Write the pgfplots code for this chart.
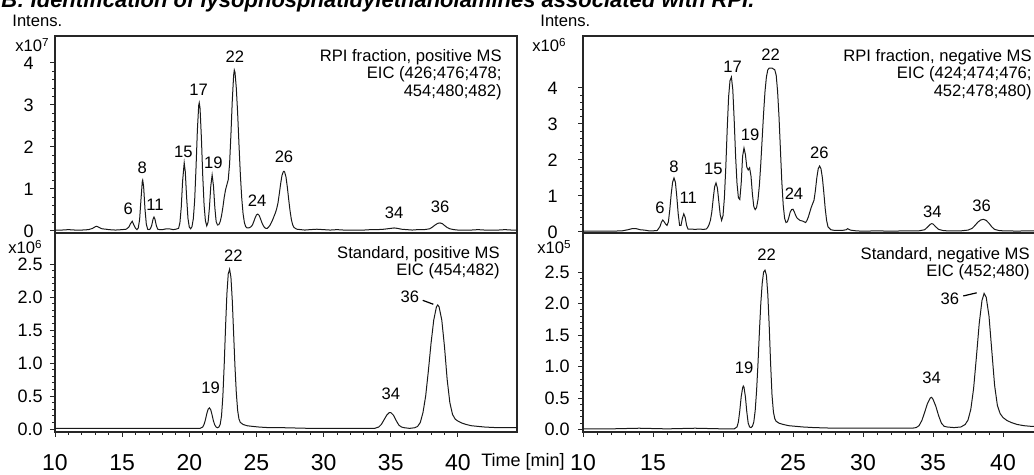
\documentclass[border=0pt]{standalone}
\usepackage{fontspec}
\setmainfont{Liberation Sans}
\usepackage{pgfplots}
\pgfplotsset{compat=1.18}

\newcommand\lab{\fontsize{8.3}{7.6}\selectfont}

\pgfplotsset{
  chrom/.style={
    scale only axis,
    axis line style={line width=0.6pt, black!85},
    tick style={black!85, line width=0.45pt},
    tick align=outside,
    ytick pos=left, xtick pos=bottom,
    minor y tick num=4,
    major tick length=2.5pt, minor tick length=1.5pt,
    /pgf/number format/assume math mode=true,
    yticklabel style={font=\fontsize{9}{10}\selectfont, inner sep=0pt, anchor=east},
    no markers,
    every axis plot post/.append style={black!90, line width=0.5pt},
    clip mode=individual,
  },
  toppanel/.style={chrom, height=98.5pt, xtick=\empty, ytick={0,1,2,3,4}},
  botpanel/.style={chrom, height=99.5pt,
    xtick={10,15,...,40}, minor x tick num=4,
    ytick={0,0.5,...,2.5},
    yticklabel style={/pgf/number format/fixed, /pgf/number format/fixed zerofill,
      /pgf/number format/precision=1},
    xticklabel style={font=\fontsize{11.5}{12}\selectfont, anchor=center, yshift=-13pt},
  },
}

\begin{document}
\begin{tikzpicture}

% ---------- left, top: RPI fraction, positive MS (x10^7)
\begin{axis}[toppanel, at={(27.5pt,-116.5pt)}, anchor=south west,
  width=231pt, xmin=10, xmax=44.4, ymin=-0.05, ymax=4.64,
  yticklabel style={xshift=-8pt}]
\addplot coordinates {
(10.0,0.02)(10.5,0.02)(11.0,0.03)(11.5,0.02)(12.0,0.02)(12.5,0.03)(12.8,0.06)(13.0,0.10)(13.1,0.11)(13.3,0.08)(13.5,0.05)(13.8,0.04)(14.0,0.03)(14.5,0.02)(15.0,0.03)(15.3,0.04)(15.5,0.09)(15.6,0.16)(15.75,0.23)(15.9,0.12)(16.0,0.06)(16.1,0.03)(16.2,0.07)(16.3,0.27)(16.4,0.74)(16.5,1.18)(16.53,1.21)(16.6,1.05)(16.7,0.52)(16.8,0.16)(16.9,0.04)(17.0,0.03)(17.1,0.05)(17.2,0.13)(17.3,0.28)(17.37,0.33)(17.45,0.27)(17.55,0.12)(17.65,0.04)(17.8,0.03)(18.0,0.03)(18.3,0.05)(18.5,0.05)(18.8,0.03)(19.0,0.04)(19.2,0.06)(19.3,0.19)(19.4,0.56)(19.5,1.18)(19.62,1.62)(19.7,1.41)(19.8,0.80)(19.9,0.30)(20.0,0.09)(20.1,0.05)(20.2,0.10)(20.3,0.29)(20.4,0.73)(20.5,1.50)(20.6,2.39)(20.7,2.99)(20.74,3.05)(20.8,2.92)(20.9,2.22)(21.0,1.32)(21.1,0.62)(21.2,0.24)(21.3,0.12)(21.4,0.21)(21.5,0.56)(21.6,1.07)(21.7,1.33)(21.8,1.07)(21.9,0.56)(22.0,0.22)(22.1,0.14)(22.2,0.15)(22.3,0.22)(22.4,0.36)(22.5,0.56)(22.6,0.80)(22.7,0.98)(22.8,1.10)(22.9,1.22)(23.0,1.60)(23.1,2.30)(23.2,3.10)(23.3,3.70)(23.35,3.83)(23.4,3.78)(23.5,3.40)(23.6,2.80)(23.7,2.05)(23.8,1.35)(23.9,0.80)(24.0,0.42)(24.1,0.20)(24.2,0.10)(24.3,0.07)(24.4,0.07)(24.5,0.08)(24.6,0.10)(24.7,0.14)(24.8,0.22)(24.9,0.31)(25.0,0.38)(25.1,0.40)(25.2,0.37)(25.3,0.29)(25.4,0.20)(25.5,0.13)(25.6,0.08)(25.7,0.06)(25.8,0.06)(25.9,0.09)(26.0,0.13)(26.1,0.19)(26.2,0.26)(26.3,0.34)(26.4,0.42)(26.5,0.52)(26.6,0.66)(26.7,0.88)(26.8,1.12)(26.9,1.32)(27.0,1.41)(27.05,1.42)(27.1,1.40)(27.2,1.28)(27.3,1.04)(27.4,0.75)(27.5,0.48)(27.6,0.27)(27.7,0.14)(27.8,0.08)(28.0,0.04)(28.3,0.03)(28.6,0.02)(29.0,0.03)(29.5,0.04)(30.0,0.03)(30.5,0.02)(31.0,0.03)(31.5,0.02)(32.0,0.02)(32.5,0.02)(33.0,0.02)(33.5,0.03)(34.0,0.03)(34.5,0.04)(35.0,0.06)(35.25,0.07)(35.5,0.06)(35.8,0.04)(36.2,0.03)(36.6,0.02)(37.0,0.03)(37.5,0.03)(37.9,0.05)(38.1,0.09)(38.3,0.14)(38.5,0.18)(38.67,0.19)(38.85,0.17)(39.0,0.13)(39.2,0.08)(39.4,0.05)(39.7,0.03)(40.0,0.02)(40.5,0.02)(41.0,0.02)(41.5,0.03)(42.0,0.02)(42.5,0.02)(43.0,0.02)(43.5,0.03)(44.0,0.02)(44.4,0.02)
};
\node[font=\lab] at (axis cs:23.4,4.14) {22};
\node[font=\lab] at (axis cs:20.7,3.36) {17};
\node[font=\lab] at (axis cs:19.55,1.88) {15};
\node[font=\lab] at (axis cs:21.8,1.62) {19};
\node[font=\lab] at (axis cs:16.5,1.5) {8};
\node[font=\lab] at (axis cs:15.45,0.52) {6};
\node[font=\lab] at (axis cs:17.45,0.62) {11};
\node[font=\lab] at (axis cs:25.05,0.71) {24};
\node[font=\lab] at (axis cs:27.05,1.76) {26};
\node[font=\lab] at (axis cs:35.25,0.42) {34};
\node[font=\lab] at (axis cs:38.67,0.57) {36};
\end{axis}

% ---------- left, bottom: standard, positive MS (x10^6)
\begin{axis}[botpanel, at={(27.5pt,-216pt)}, anchor=south west,
  width=231pt, xmin=10, xmax=44.4, ymin=-0.045, ymax=2.97,
  yticklabel style={xshift=-3.5pt}]
\addplot coordinates {
(10.0,0.01)(12.0,0.01)(14.0,0.01)(16.0,0.01)(18.0,0.01)(20.0,0.01)(20.8,0.01)(21.0,0.03)(21.1,0.07)(21.2,0.14)(21.3,0.23)(21.4,0.30)(21.5,0.32)(21.6,0.29)(21.7,0.21)(21.8,0.12)(21.9,0.06)(22.0,0.03)(22.1,0.02)(22.2,0.03)(22.3,0.07)(22.4,0.20)(22.5,0.50)(22.6,0.98)(22.7,1.55)(22.8,2.05)(22.9,2.35)(23.0,2.42)(23.1,2.30)(23.2,1.95)(23.3,1.45)(23.4,0.95)(23.5,0.55)(23.6,0.28)(23.7,0.15)(23.8,0.10)(24.0,0.07)(24.3,0.05)(24.7,0.04)(25.2,0.03)(26.0,0.02)(27.0,0.02)(28.0,0.015)(29.0,0.01)(30.0,0.01)(32.0,0.01)(33.0,0.01)(33.8,0.01)(34.1,0.03)(34.3,0.07)(34.5,0.14)(34.7,0.21)(34.9,0.25)(35.0,0.25)(35.2,0.21)(35.4,0.13)(35.6,0.06)(35.8,0.03)(36.0,0.02)(36.4,0.01)(36.8,0.02)(37.0,0.04)(37.2,0.10)(37.4,0.25)(37.6,0.50)(37.8,0.88)(38.0,1.30)(38.2,1.65)(38.4,1.85)(38.5,1.88)(38.6,1.85)(38.8,1.65)(39.0,1.25)(39.2,0.75)(39.4,0.40)(39.6,0.22)(39.8,0.15)(40.0,0.12)(40.3,0.09)(40.6,0.07)(41.0,0.05)(41.5,0.04)(42.0,0.03)(42.5,0.025)(43.0,0.02)(44.0,0.02)(44.4,0.02)
};
\node[font=\lab] at (axis cs:23.28,2.63) {22};
\node[font=\lab] at (axis cs:21.59,0.62) {19};
\node[font=\lab] at (axis cs:35.0,0.53) {34};
\node[font=\lab] at (axis cs:36.43,2.0) {36};
\draw[line width=0.6pt] (axis cs:37.38,1.95) -- (axis cs:38.17,1.89);
\end{axis}

% ---------- right, top: RPI fraction, negative MS (x10^6)
\begin{axis}[toppanel, at={(291.5pt,-116.5pt)}, anchor=south west,
  width=238pt, xmin=10, xmax=44, ymin=-0.03, ymax=5.44,
  yticklabel style={xshift=-10pt}]
\addplot coordinates {
(10.0,0.02)(11.0,0.02)(12.0,0.02)(12.8,0.03)(13.2,0.06)(13.5,0.09)(13.8,0.09)(14.1,0.06)(14.4,0.05)(14.7,0.03)(15.0,0.03)(15.3,0.04)(15.5,0.15)(15.6,0.27)(15.7,0.33)(15.8,0.28)(15.9,0.22)(16.0,0.18)(16.1,0.28)(16.2,0.62)(16.3,1.05)(16.4,1.38)(16.5,1.50)(16.6,1.38)(16.7,0.98)(16.8,0.50)(16.9,0.18)(17.0,0.18)(17.1,0.38)(17.2,0.50)(17.3,0.40)(17.4,0.18)(17.5,0.08)(17.7,0.08)(18.0,0.07)(18.3,0.08)(18.6,0.07)(18.8,0.08)(18.9,0.12)(19.0,0.20)(19.1,0.32)(19.2,0.55)(19.3,0.92)(19.4,1.25)(19.5,1.36)(19.6,1.22)(19.7,0.85)(19.8,0.48)(19.9,0.32)(20.0,0.45)(20.1,0.95)(20.2,1.80)(20.3,2.85)(20.4,3.75)(20.5,4.20)(20.6,4.30)(20.7,3.95)(20.8,3.10)(20.9,2.10)(21.0,1.35)(21.1,0.95)(21.2,0.90)(21.3,1.35)(21.4,2.10)(21.5,2.33)(21.6,2.15)(21.7,1.80)(21.8,1.72)(21.9,1.78)(22.0,1.55)(22.1,1.05)(22.2,0.70)(22.3,0.62)(22.4,0.68)(22.5,0.90)(22.6,1.30)(22.7,1.90)(22.8,2.60)(22.9,3.30)(23.0,3.90)(23.1,4.30)(23.2,4.50)(23.3,4.55)(23.5,4.55)(23.7,4.50)(23.8,4.35)(23.9,3.90)(24.0,3.20)(24.1,2.30)(24.2,1.40)(24.3,0.75)(24.4,0.38)(24.5,0.26)(24.6,0.28)(24.7,0.40)(24.8,0.55)(24.9,0.62)(25.0,0.63)(25.1,0.55)(25.2,0.45)(25.3,0.38)(25.5,0.32)(25.7,0.30)(25.9,0.26)(26.0,0.32)(26.1,0.42)(26.2,0.55)(26.3,0.68)(26.4,0.78)(26.5,0.88)(26.6,1.15)(26.7,1.50)(26.8,1.75)(26.9,1.83)(27.0,1.75)(27.1,1.50)(27.2,1.10)(27.3,0.65)(27.4,0.32)(27.5,0.14)(27.7,0.06)(28.0,0.04)(28.5,0.04)(28.8,0.06)(28.9,0.09)(29.1,0.05)(29.5,0.03)(30.0,0.02)(31.0,0.03)(32.0,0.02)(33.0,0.03)(34.0,0.03)(34.4,0.06)(34.6,0.13)(34.8,0.21)(34.9,0.23)(35.0,0.22)(35.2,0.14)(35.4,0.07)(35.7,0.04)(36.0,0.03)(36.5,0.03)(37.0,0.03)(37.5,0.05)(37.8,0.10)(38.0,0.18)(38.2,0.27)(38.4,0.33)(38.6,0.35)(38.8,0.32)(39.0,0.24)(39.2,0.14)(39.4,0.07)(39.7,0.04)(40.0,0.03)(40.5,0.03)(41.0,0.02)(41.5,0.03)(42.0,0.03)(42.5,0.03)(43.0,0.02)(44.0,0.02)
};
\node[font=\lab] at (axis cs:23.4,4.92) {22};
\node[font=\lab] at (axis cs:20.69,4.59) {17};
\node[font=\lab] at (axis cs:21.93,2.69) {19};
\node[font=\lab] at (axis cs:19.31,1.74) {15};
\node[font=\lab] at (axis cs:16.5,1.81) {8};
\node[font=\lab] at (axis cs:15.5,0.66) {6};
\node[font=\lab] at (axis cs:17.52,0.94) {11};
\node[font=\lab] at (axis cs:25.07,1.06) {24};
\node[font=\lab] at (axis cs:26.88,2.2) {26};
\node[font=\lab] at (axis cs:34.95,0.56) {34};
\node[font=\lab] at (axis cs:38.48,0.73) {36};
\end{axis}

% ---------- right, bottom: standard, negative MS (x10^5)
\begin{axis}[botpanel, at={(291.5pt,-216pt)}, anchor=south west,
  width=238pt, xmin=10, xmax=44, ymin=-0.04, ymax=3.12,
  xticklabels={10,15,,25,30,35,40},
  yticklabel style={xshift=-4pt}]
\addplot coordinates {
(10.0,0.01)(12.0,0.01)(14.0,0.02)(16.0,0.01)(18.0,0.02)(20.0,0.01)(20.8,0.01)(21.0,0.04)(21.1,0.12)(21.2,0.30)(21.3,0.52)(21.4,0.66)(21.45,0.69)(21.5,0.67)(21.6,0.52)(21.7,0.28)(21.8,0.10)(21.9,0.04)(22.0,0.03)(22.1,0.05)(22.2,0.12)(22.3,0.30)(22.4,0.62)(22.5,1.05)(22.6,1.55)(22.7,2.00)(22.8,2.32)(22.9,2.50)(23.0,2.53)(23.1,2.45)(23.2,2.15)(23.3,1.65)(23.4,1.05)(23.5,0.55)(23.6,0.28)(23.7,0.17)(23.8,0.13)(24.0,0.10)(24.3,0.08)(24.7,0.06)(25.2,0.05)(25.7,0.04)(26.5,0.03)(28.0,0.02)(30.0,0.02)(32.0,0.02)(33.5,0.02)(33.8,0.03)(34.0,0.06)(34.2,0.14)(34.4,0.27)(34.6,0.41)(34.8,0.50)(34.9,0.51)(35.0,0.48)(35.2,0.37)(35.4,0.22)(35.6,0.10)(35.8,0.05)(36.0,0.04)(36.5,0.03)(37.0,0.04)(37.3,0.08)(37.5,0.15)(37.7,0.32)(37.9,0.65)(38.1,1.15)(38.3,1.68)(38.5,2.05)(38.65,2.16)(38.8,2.10)(39.0,1.80)(39.2,1.25)(39.4,0.70)(39.6,0.38)(39.8,0.25)(40.0,0.19)(40.3,0.14)(40.6,0.11)(41.0,0.08)(41.5,0.06)(42.0,0.05)(43.0,0.04)(44.0,0.04)
};
\node[font=\lab] at (axis cs:23.12,2.77) {22};
\node[font=\lab] at (axis cs:21.5,0.98) {19};
\node[font=\lab] at (axis cs:34.9,0.82) {34};
\node[font=\lab] at (axis cs:36.21,2.08) {36};
\draw[line width=0.6pt] (axis cs:37.16,2.12) -- (axis cs:38.12,2.17);
\end{axis}

% ---------- texts around the axes (pixel grid of the reference, y down)
\begin{scope}[x=0.5pt, y=-0.5pt]
\node[anchor=base west, inner sep=0, font=\fontsize{11}{13}\selectfont\bfseries\itshape]
  at (1,8) {B: Identification of lysophosphatidylethanolamines associated with RPI.};
\node[anchor=base west, inner sep=0, font=\lab] at (12,27) {Intens.};
\node[anchor=base west, inner sep=0, font=\lab] at (540,27) {Intens.};
\node[anchor=base east, inner sep=0, font=\lab] at (50,52) {x10\textsuperscript{7}};
\node[anchor=base east, inner sep=0, font=\lab] at (567,52) {x10\textsuperscript{6}};
\node[anchor=base east, inner sep=0, font=\lab] at (43,254) {x10\textsuperscript{6}};
\node[anchor=base east, inner sep=0, font=\lab] at (572,254) {x10\textsuperscript{5}};
\node[anchor=north east, align=right, inner sep=0, font=\lab] at (502,49)
  {RPI fraction, positive MS\\EIC (426;476;478;\\454;480;482)};
\node[anchor=north east, align=right, inner sep=0, font=\lab] at (1032,49)
  {RPI fraction, negative MS\\EIC (424;474;476;\\452;478;480)};
\node[anchor=north east, align=right, inner sep=0, font=\lab] at (500,246)
  {Standard, positive MS\\EIC (454;482)};
\node[anchor=north east, align=right, inner sep=0, font=\lab] at (1030,247)
  {Standard, negative MS\\EIC (452;480)};
\node[inner sep=0, font=\fontsize{9}{10}\selectfont] at (523,462) {Time [min]};
\pgfresetboundingbox
\path[use as bounding box] (0,0) rectangle (1034,475);
\end{scope}
\end{tikzpicture}
\end{document}
